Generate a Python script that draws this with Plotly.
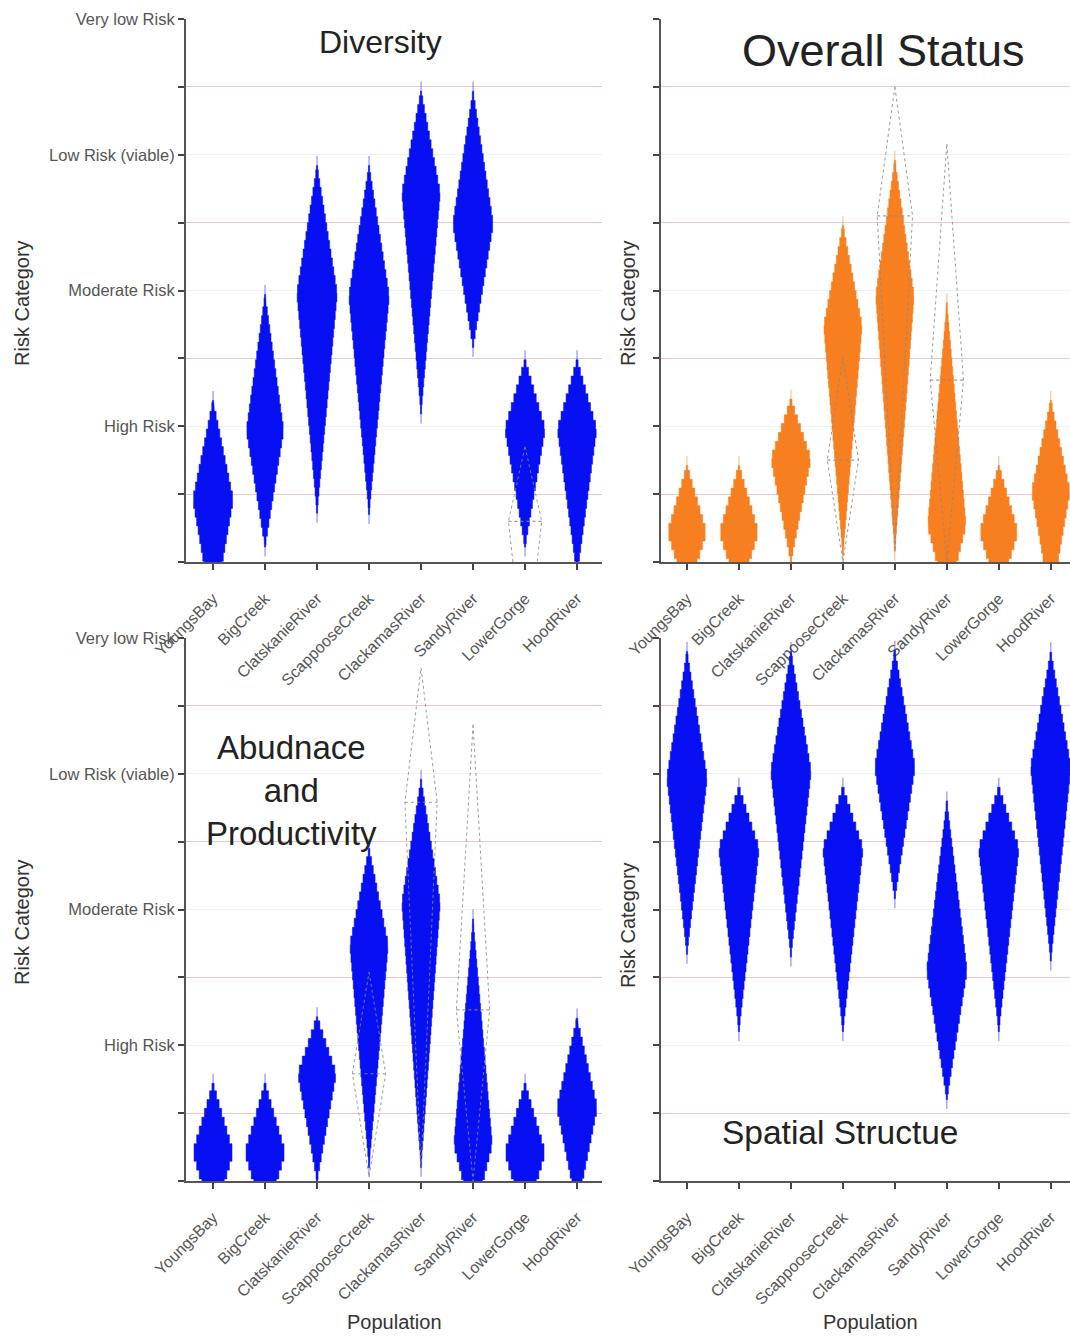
import plotly.graph_objects as go

populations = ["YoungsBay", "BigCreek", "ClatskanieRiver", "ScappooseCreek",
               "ClackamasRiver", "SandyRiver", "LowerGorge", "HoodRiver"]
risk_ticks = [0, 1, 2, 3, 4]
risk_labels = ["", "High Risk", "Moderate Risk", "Low Risk (viable)", "Very low Risk"]

# Diversity (blue)
div_low  = [-0.40, 0.11, 0.36, 0.35, 1.09, 1.58, 0.11, -0.10]
div_mode = [0.46, 0.97, 1.98, 1.96, 2.72, 2.49, 0.98, 0.98]
div_high = [1.19, 1.97, 2.92, 2.92, 3.47, 3.47, 1.49, 1.49]
div_hw   = [0.39, 0.36, 0.39, 0.39, 0.37, 0.39, 0.39, 0.38]

# Overall status (orange)
ovr_low  = [-0.25, -0.25, 0.00, 0.05, 0.08, -0.30, -0.25, -0.30]
ovr_mode = [0.22, 0.22, 0.76, 1.74, 1.96, 0.27, 0.22, 0.52]
ovr_high = [0.71, 0.71, 1.20, 2.48, 2.96, 1.91, 0.71, 1.19]
ovr_hw   = [0.375, 0.375, 0.385, 0.37, 0.37, 0.37, 0.37, 0.37]

# Abundance and productivity (blue)
abp_low  = [-0.30, -0.30, 0.00, 0.10, 0.10, -0.30, -0.30, -0.20]
abp_mode = [0.21, 0.21, 0.79, 1.74, 2.05, 0.27, 0.21, 0.54]
abp_high = [0.72, 0.72, 1.21, 2.45, 2.96, 1.93, 0.72, 1.20]
abp_hw   = [0.39, 0.39, 0.37, 0.37, 0.37, 0.37, 0.39, 0.39]

# Spatial structure (blue)
spa_low  = [1.67, 1.10, 1.65, 1.10, 2.08, 0.60, 1.10, 1.62]
spa_mode = [2.97, 2.45, 3.02, 2.45, 3.05, 1.55, 2.45, 3.05]
spa_high = [3.90, 2.90, 3.90, 2.90, 3.91, 2.80, 2.90, 3.90]
spa_hw   = [0.39, 0.39, 0.39, 0.39, 0.39, 0.39, 0.39, 0.39]

# Dotted comparison outlines: (population index, low, mode, high, half width)
div_dot = [(6, -0.80, 0.30, 0.85, 0.32)]
ovr_dot = [(3, 0.00, 0.75, 1.51, 0.30), (4, 0.10, 2.55, 3.50, 0.34), (5, 0.00, 1.34, 3.08, 0.32)]
abp_dot = [(3, 0.03, 0.79, 1.54, 0.32), (4, 0.10, 2.79, 3.78, 0.31), (5, 0.00, 1.26, 3.36, 0.32)]

BLUE = "#0610F2"
ORANGE = "#F77F20"
DOT = "#8a8a8a"
FONT = "Arial, Liberation Sans, sans-serif"


def stepped(c, low, mode, high, hw, dy=0.065):
    edges = [mode]
    y = mode
    while y + dy < high:
        y += dy
        edges.append(y)
    edges.append(high)
    y = mode
    below = []
    while y - dy > low:
        y -= dy
        below.append(y)
    below.append(low)
    edges = list(reversed(below)) + edges
    rx, ry = [], []
    for y0, y1 in zip(edges[:-1], edges[1:]):
        ym = 0.5 * (y0 + y1)
        span = (high - mode) if ym >= mode else (mode - low)
        w = hw * max(0.03, 1 - abs(ym - mode) / span)
        rx += [c + w, c + w]
        ry += [y0, y1]
    lx = [2 * c - v for v in reversed(rx)]
    ly = list(reversed(ry))
    return [c] + rx + [c] + lx + [c], [low] + ry + [high] + ly + [low]


fig = go.Figure()

panels = [
    (div_low, div_mode, div_high, div_hw, BLUE, div_dot, "x", "y"),
    (ovr_low, ovr_mode, ovr_high, ovr_hw, ORANGE, ovr_dot, "x2", "y2"),
    (abp_low, abp_mode, abp_high, abp_hw, BLUE, abp_dot, "x3", "y3"),
    (spa_low, spa_mode, spa_high, spa_hw, BLUE, [], "x4", "y4"),
]

for low, mode, high, hw, col, dots, xa, ya in panels:
    for i in range(len(populations)):
        fig.add_trace(go.Scatter(x=[i, i], y=[low[i] - 0.07, high[i] + 0.07], mode="lines",
                                 line=dict(color=col, width=1.2), opacity=0.45,
                                 xaxis=xa, yaxis=ya, showlegend=False, hoverinfo="skip"))
        xs, ys = stepped(i, low[i], mode[i], high[i], hw[i])
        fig.add_trace(go.Scatter(x=xs, y=ys, mode="lines", fill="toself", fillcolor=col,
                                 line=dict(color=col, width=0.5), xaxis=xa, yaxis=ya,
                                 showlegend=False, name=populations[i]))
    for (i, lo, md, hi, w) in dots:
        fig.add_trace(go.Scatter(x=[i, i + w, i, i - w, i], y=[hi, md, lo, md, hi], mode="lines",
                                 line=dict(color=DOT, width=1, dash="dot"), opacity=0.85,
                                 xaxis=xa, yaxis=ya, showlegend=False, hoverinfo="skip"))
        fig.add_trace(go.Scatter(x=[i - w, i + w], y=[md, md], mode="lines",
                                 line=dict(color=DOT, width=1.2, dash="dot"), opacity=0.85,
                                 xaxis=xa, yaxis=ya, showlegend=False, hoverinfo="skip"))

W, H = 1070, 1336
xl = [186 / W, 602 / W]
xr = [661 / W, 1.0]
yt = [1 - 562 / H, 1 - 19 / H]
yb = [1 - 1181 / H, 1 - 638 / H]


def xaxis(dom, anchor, rng):
    return dict(domain=dom, anchor=anchor, range=rng, tickmode="array",
                tickvals=list(range(len(populations))), ticktext=populations,
                tickangle=-45, ticks="outside", ticklen=6, tickwidth=1.5, tickcolor="#444",
                showline=True, linecolor="#555", linewidth=2, showgrid=False, zeroline=False,
                tickfont=dict(family=FONT, size=16, color="#555"), ticklabelstandoff=13,
                automargin=False, fixedrange=True)


def yaxis(dom, anchor, labels):
    return dict(domain=dom, anchor=anchor, range=[0, 4], tickmode="array",
                tickvals=risk_ticks, ticktext=risk_labels if labels else [""] * 5,
                showticklabels=labels, ticks="outside", ticklen=6, tickwidth=1.5,
                tickcolor="#444", showline=True, linecolor="#555", linewidth=2,
                showgrid=True, gridcolor="#EAF2F2", gridwidth=1, zeroline=False,
                minor=dict(tickmode="array", tickvals=[0.5, 1.5, 2.5, 3.5], ticks="outside",
                           ticklen=6, tickwidth=1.5, tickcolor="#444", showgrid=True,
                           gridcolor="#F3C6C6", gridwidth=1),
                tickfont=dict(family=FONT, size=16.5, color="#555"),
                automargin=False, fixedrange=True)


fig.update_layout(
    width=W, height=H, margin=dict(l=0, r=0, t=0, b=0, autoexpand=False),
    paper_bgcolor="white", plot_bgcolor="white",
    xaxis=xaxis(xl, "y", [-0.52, 7.48]), yaxis=yaxis(yt, "x", True),
    xaxis2=xaxis(xr, "y2", [-0.5, 7.37]), yaxis2=yaxis(yt, "x2", False),
    xaxis3=xaxis(xl, "y3", [-0.52, 7.48]), yaxis3=yaxis(yb, "x3", True),
    xaxis4=xaxis(xr, "y4", [-0.5, 7.37]), yaxis4=yaxis(yb, "x4", False),
)


def ann(text, px, py, size, angle=0, color="#222"):
    fig.add_annotation(text=text, x=px / W, y=1 - py / H, xref="paper", yref="paper",
                       showarrow=False, textangle=angle, xanchor="center", yanchor="middle",
                       font=dict(family=FONT, size=size, color=color))


ann("Diversity", 380, 42, 32)
ann("Overall Status", 883, 50, 45)
ann("Abudnace<br>and<br>Productivity", 291, 790, 33)
ann("Spatial Structue", 840, 1132, 33.5)
for px, py in [(22, 303), (22, 922), (628, 303), (628, 925)]:
    ann("Risk Category", px, py, 20, angle=-90, color="#333")
ann("Population", 394, 1322, 20, color="#333")
ann("Population", 870, 1322, 20, color="#333")

fig.write_html("out.html", config={"responsive": False})
